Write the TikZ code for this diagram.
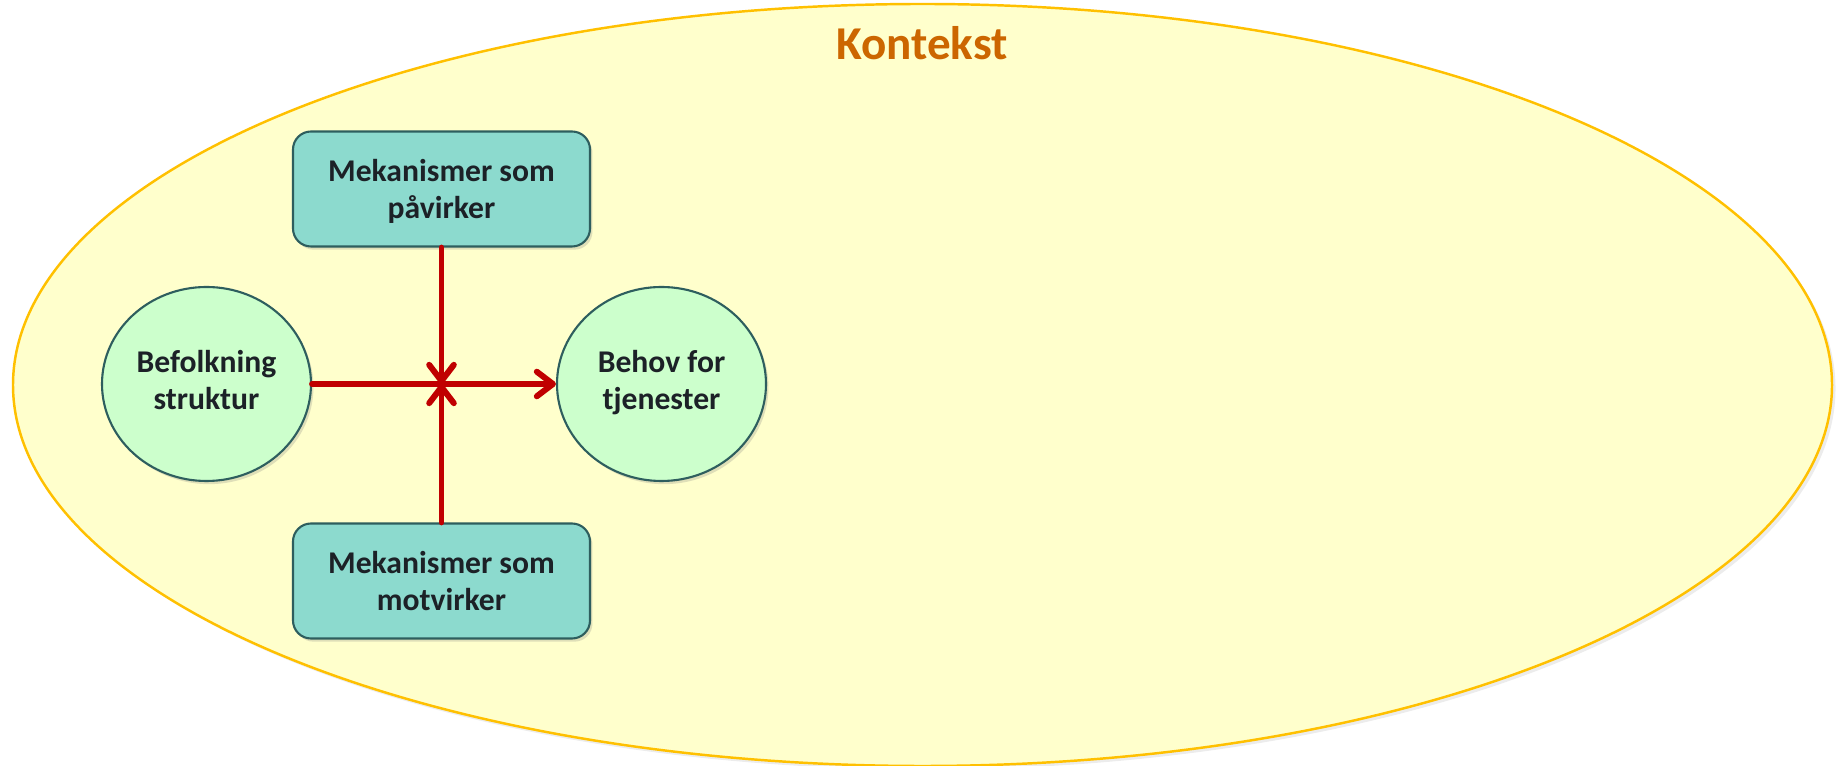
\documentclass[tikz,border=0pt]{standalone}
\usepackage{fontspec}
\setmainfont{Carlito}
\usepackage{tikz}
\usetikzlibrary{positioning}
\usetikzlibrary{shapes.geometric,arrows.meta,shadows}

\definecolor{kontekstfill}{HTML}{FFFFCC}
\definecolor{kontekstline}{HTML}{FFC000}
\definecolor{kontekstord}{HTML}{CC6600}
\definecolor{mekfill}{HTML}{8CDACE}
\definecolor{rand}{HTML}{2E5E5E}
\definecolor{grupfill}{HTML}{CCFFCC}
\definecolor{skrift}{HTML}{1C2127}
\definecolor{pil}{HTML}{C00000}

\begin{document}
\begin{tikzpicture}[
	mek/.style={draw=rand, line width=0.6pt, fill=mekfill, rounded corners=0.18cm,
		minimum width=2.97cm, minimum height=1.15cm, inner sep=0pt, align=center,
		text=skrift, font=\fontsize{9}{10.8}\selectfont\bfseries,
		text height=19.07pt, text depth=2pt,
		drop shadow={opacity=0.25, shadow xshift=0.7pt, shadow yshift=-0.9pt}},
	grup/.style={ellipse, draw=rand, line width=0.6pt, fill=grupfill,
		minimum width=2.09cm, minimum height=1.94cm, inner sep=0pt, align=center,
		text=skrift, font=\fontsize{9}{10.7}\selectfont\bfseries,
		text height=16.8pt, text depth=2pt,
		drop shadow={opacity=0.25, shadow xshift=0.7pt, shadow yshift=-0.9pt}},
	virk/.style={draw=pil, line width=1.7pt, line cap=round, line join=round,
		-{Straight Barb[length=4.6pt, width=7pt, line cap=round, line join=round]}}
]
	\useasboundingbox (0,0) rectangle (18.39,-7.66);

	% kontekst
	\draw[fill=kontekstfill, draw=kontekstline, line width=0.7pt,
		drop shadow={opacity=0.15, shadow xshift=1pt, shadow yshift=-1pt}]
		(9.225,-3.85) ellipse [x radius=9.095cm, y radius=3.81cm];
	\node[text=kontekstord, font=\fontsize{13.4}{16}\selectfont\bfseries]
		(kontekst) at (9.22,-0.43) {Kontekst};

	% noder
	\node[mek] (paavirker) at (4.415,-1.89) {Mekanismer som\\påvirker};
	\node[mek] (motvirker) at (4.415,-5.81) {Mekanismer som\\motvirker};
	\node[grup] (befolkning) at (2.065,-3.84) {Befolkning\\struktur};
	\node[grup] (behov) at (6.615,-3.84) {Behov for\\tjenester};
	\coordinate (kryss) at (paavirker.south |- befolkning.east);

	% piler
	\draw[virk] (befolkning.east) -- (behov.west);
	\draw[virk] (paavirker.south) -- (kryss);
	\draw[virk] (motvirker.north) -- (kryss);
\end{tikzpicture}
\end{document}
